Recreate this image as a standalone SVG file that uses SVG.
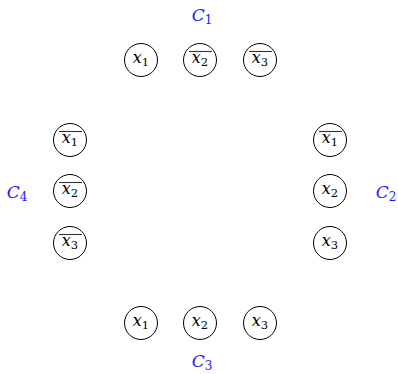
<svg xmlns="http://www.w3.org/2000/svg" width="398" height="374" viewBox="0 0 398 374">
<style>
.n{fill:#fff;stroke:#000;stroke-width:1}
text{font-family:"DejaVu Serif","Liberation Serif",serif}
.t{font-size:16px;text-anchor:middle;fill:#000}
.v{font-style:italic}
.s{font-size:11.5px}
.o{stroke:#333;stroke-width:1.1}
.c{font-size:17px;text-anchor:middle;fill:#1a1aff}
.cs{font-size:12px;font-style:normal}
</style>
<g id="labels">
<text class="c" x="202" y="21"><tspan font-style="italic">C</tspan><tspan class="cs" dy="3">1</tspan></text>
<text class="c" x="386" y="198"><tspan font-style="italic">C</tspan><tspan class="cs" dy="3">2</tspan></text>
<text class="c" x="202" y="367"><tspan font-style="italic">C</tspan><tspan class="cs" dy="3">3</tspan></text>
<text class="c" x="17" y="198"><tspan font-style="italic">C</tspan><tspan class="cs" dy="3">4</tspan></text>
</g>
<g id="connectors"></g>
<g id="c1x1"><circle class="n" cx="141" cy="60" r="16.5"/><text class="t" x="141" y="63"><tspan class="v">x</tspan><tspan class="s" dy="3">1</tspan></text></g>
<g id="c1x2"><circle class="n" cx="200" cy="60" r="16.5"/><text class="t" x="200" y="63"><tspan class="v">x</tspan><tspan class="s" dy="3">2</tspan></text><line class="o" x1="189" y1="51.5" x2="212" y2="51.5"/></g>
<g id="c1x3"><circle class="n" cx="260" cy="60" r="16.5"/><text class="t" x="260" y="63"><tspan class="v">x</tspan><tspan class="s" dy="3">3</tspan></text><line class="o" x1="249" y1="51.5" x2="272" y2="51.5"/></g>
<g id="c2x1"><circle class="n" cx="330" cy="140" r="16.5"/><text class="t" x="330" y="143"><tspan class="v">x</tspan><tspan class="s" dy="3">1</tspan></text><line class="o" x1="319" y1="131.5" x2="342" y2="131.5"/></g>
<g id="c2x2"><circle class="n" cx="330" cy="191" r="16.5"/><text class="t" x="330" y="194"><tspan class="v">x</tspan><tspan class="s" dy="3">2</tspan></text></g>
<g id="c2x3"><circle class="n" cx="330" cy="243" r="16.5"/><text class="t" x="330" y="246"><tspan class="v">x</tspan><tspan class="s" dy="3">3</tspan></text></g>
<g id="c3x1"><circle class="n" cx="141" cy="323" r="16.5"/><text class="t" x="141" y="326"><tspan class="v">x</tspan><tspan class="s" dy="3">1</tspan></text></g>
<g id="c3x2"><circle class="n" cx="200" cy="323" r="16.5"/><text class="t" x="200" y="326"><tspan class="v">x</tspan><tspan class="s" dy="3">2</tspan></text></g>
<g id="c3x3"><circle class="n" cx="260" cy="323" r="16.5"/><text class="t" x="260" y="326"><tspan class="v">x</tspan><tspan class="s" dy="3">3</tspan></text></g>
<g id="c4x1"><circle class="n" cx="70" cy="140" r="16.5"/><text class="t" x="70" y="143"><tspan class="v">x</tspan><tspan class="s" dy="3">1</tspan></text><line class="o" x1="59" y1="131.5" x2="82" y2="131.5"/></g>
<g id="c4x2"><circle class="n" cx="70" cy="191" r="16.5"/><text class="t" x="70" y="194"><tspan class="v">x</tspan><tspan class="s" dy="3">2</tspan></text><line class="o" x1="59" y1="182.5" x2="82" y2="182.5"/></g>
<g id="c4x3"><circle class="n" cx="70" cy="243" r="16.5"/><text class="t" x="70" y="246"><tspan class="v">x</tspan><tspan class="s" dy="3">3</tspan></text><line class="o" x1="59" y1="234.5" x2="82" y2="234.5"/></g>
</svg>
